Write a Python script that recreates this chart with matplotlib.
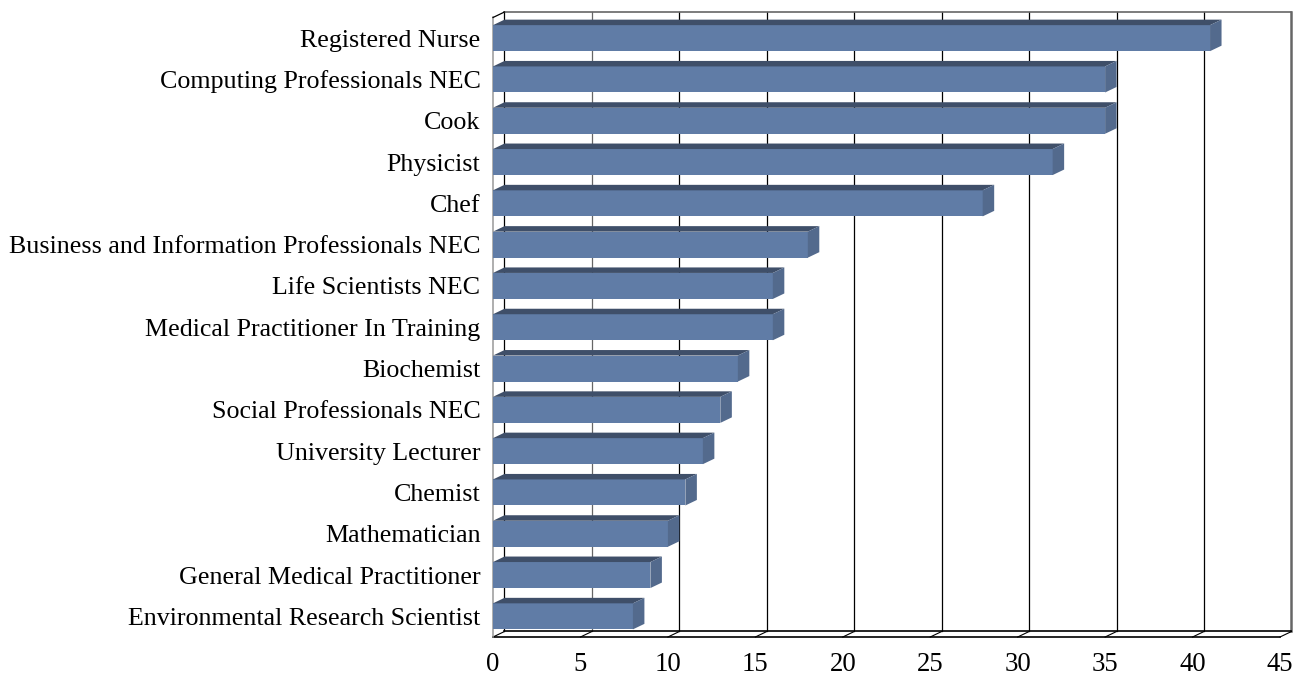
import matplotlib
matplotlib.use("Agg")
import matplotlib.pyplot as plt
from matplotlib.patches import Polygon

plt.rcParams["font.family"] = ["Liberation Serif", "DejaVu Serif"]

occupations = [
    "Registered Nurse",
    "Computing Professionals NEC",
    "Cook",
    "Physicist",
    "Chef",
    "Business and Information Professionals NEC",
    "Life Scientists NEC",
    "Medical Practitioner In Training",
    "Biochemist",
    "Social Professionals NEC",
    "University Lecturer",
    "Chemist",
    "Mathematician",
    "General Medical Practitioner",
    "Environmental Research Scientist",
]
counts = [41, 35, 35, 32, 28, 18, 16, 16, 14, 13, 12, 11, 10, 9, 8]
x_ticks = [0, 5, 10, 15, 20, 25, 30, 35, 40, 45]

W, H = 1304, 676
FRONT = "#607CA6"
TOP = "#3F4F69"
SIDE = "#536A8D"

# depth of the fake 3D, in data units
DX = 11.5 / 17.5
DY = 5.5 / 41.3
BAR_H = 0.63

fig = plt.figure(figsize=(W / 100, H / 100), dpi=100)
ax = fig.add_axes([493 / W, 1 - 637 / H, 787 / W, 619.5 / H])
ax.set_xlim(0, 45)
ax.set_ylim(14.5, -0.5)
for s in ax.spines.values():
    s.set_visible(False)

floor, ceil = 14.5, -0.5

# back wall and floor
for t in x_ticks:
    col = "#000000" if t not in (5, 45) else "#666666"
    lw = 1.8 if t == 45 else 0.9
    ax.plot([t + DX, t + DX], [floor - DY, ceil - DY], color=col, lw=lw, clip_on=False, zorder=1)
    ax.plot([t, t + DX], [floor, floor - DY], color="black", lw=0.8, clip_on=False, zorder=1)
ax.plot([DX, 45 + DX], [ceil - DY, ceil - DY], color="#666666", lw=1.2, clip_on=False, zorder=1)
ax.plot([DX, 45 + DX], [floor - DY, floor - DY], color="black", lw=1.2, clip_on=False, zorder=1)
ax.plot([0, 45], [floor, floor], color="black", lw=1.2, clip_on=False, zorder=1)
ax.plot([0, 0], [floor, ceil], color="#999999", lw=1.1, clip_on=False, zorder=1)
ax.plot([0, DX], [ceil, ceil - DY], color="black", lw=0.9, clip_on=False, zorder=1)

# bars, front face then top and side
ypos = list(range(len(occupations)))
ax.barh(ypos, counts, height=BAR_H, color=FRONT, linewidth=0, zorder=3)
for y, v in zip(ypos, counts):
    top = y - BAR_H / 2
    bot = y + BAR_H / 2
    ax.add_patch(Polygon([(0, top), (DX, top - DY), (v + DX, top - DY), (v, top)],
                         facecolor=TOP, edgecolor="none", zorder=3))
    ax.add_patch(Polygon([(v, top), (v + DX, top - DY), (v + DX, bot - DY), (v, bot)],
                         facecolor=SIDE, edgecolor="none", zorder=3))

ax.set_yticks(ypos)
ax.set_yticklabels(occupations, fontsize=18.75, color="black")
ax.set_xticks(x_ticks)
ax.set_xticklabels([str(t) for t in x_ticks], fontsize=19.3, color="black")
ax.tick_params(axis="y", length=0, pad=9)
ax.tick_params(axis="x", length=0, pad=11)

fig.savefig("out.png", dpi=100, facecolor="white")
